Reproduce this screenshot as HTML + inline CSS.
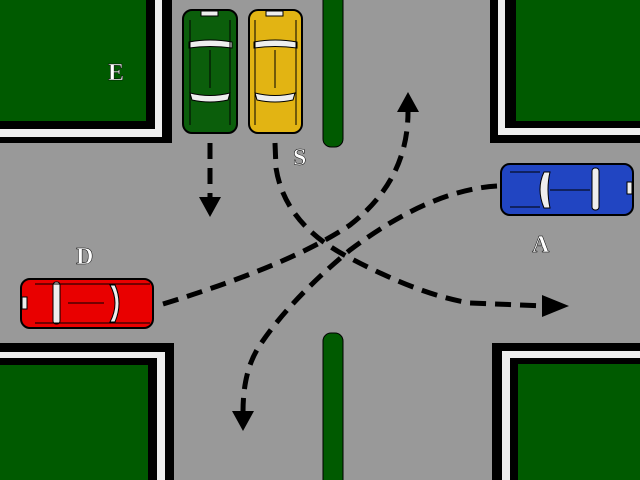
<!DOCTYPE html>
<html><head><style>html,body{margin:0;padding:0;background:#999}svg{display:block}</style></head><body>
<svg width="640" height="480" viewBox="0 0 640 480" xmlns="http://www.w3.org/2000/svg">
<rect width="640" height="480" fill="#999"/>
<!-- corners -->
<rect x="0" y="0" width="172" height="143" fill="#000"/>
<rect x="0" y="0" width="162" height="137" fill="#eee"/>
<rect x="0" y="0" width="155" height="129" fill="#000"/>
<rect x="0" y="0" width="146" height="121" fill="#005a00"/>

<rect x="490" y="0" width="150" height="143" fill="#000"/>
<rect x="498" y="0" width="142" height="135" fill="#eee"/>
<rect x="505" y="0" width="135" height="128" fill="#000"/>
<rect x="516" y="0" width="124" height="121" fill="#005a00"/>

<rect x="0" y="343" width="174" height="137" fill="#000"/>
<rect x="0" y="352" width="165" height="128" fill="#eee"/>
<rect x="0" y="358" width="157" height="122" fill="#000"/>
<rect x="0" y="365" width="148" height="115" fill="#005a00"/>

<rect x="492" y="343" width="148" height="137" fill="#000"/>
<rect x="502" y="351" width="138" height="129" fill="#eee"/>
<rect x="510" y="358" width="130" height="122" fill="#000"/>
<rect x="518" y="364" width="122" height="116" fill="#005a00"/>

<!-- center lines -->
<rect x="323" y="-20" width="20" height="167" rx="8" fill="#005a00" stroke="#000" stroke-width="1"/>
<rect x="323" y="333" width="20" height="170" rx="8" fill="#005a00" stroke="#000" stroke-width="1"/>

<!-- cars vertical -->
<g stroke="#000" stroke-width="2">
<rect x="183" y="10" width="54" height="123" rx="9" fill="#0b5e0b"/>
<rect x="249" y="10" width="53" height="123" rx="9" fill="#e2b413"/>
<rect x="501" y="164" width="132" height="51" rx="9" fill="#2145c2"/>
<rect x="21" y="279" width="132" height="49" rx="9" fill="#e90000"/>
</g>
<g fill="#eee" stroke="#000" stroke-width="1">
<!-- green -->
<rect x="201" y="11" width="17" height="5"/>
<path d="M189 42 Q210 38 232 42 L232 48 Q210 45 189 48Z"/>
<path d="M190 93 Q210 98 230 93 L228 100 Q210 104 192 100Z"/>
<rect x="266" y="11" width="17" height="5"/>
<path d="M254 42 Q275 38 297 42 L297 48 Q275 45 254 48Z"/>
<path d="M255 93 Q275 98 295 93 L293 100 Q275 104 257 100Z"/>
<!-- blue -->
<path d="M544 172 Q536 189 544 208 L550 208 Q546 189 550 172Z"/>
<rect x="592" y="168" width="7" height="42" rx="3"/>
<rect x="627" y="182" width="5" height="12"/>
<!-- red -->
<rect x="53" y="282" width="7" height="42" rx="3"/>
<path d="M110 285 Q120 303 110 322 L115 322 Q123 303 115 285Z"/>
<rect x="22" y="297" width="5" height="12"/>
</g>
<g stroke="#000" stroke-width="1" fill="none">
<line x1="210" y1="50" x2="210" y2="88"/><line x1="275" y1="50" x2="275" y2="88"/>
<line x1="190" y1="20" x2="190" y2="125"/><line x1="230" y1="20" x2="230" y2="125"/>
<line x1="255" y1="20" x2="255" y2="125"/><line x1="296" y1="20" x2="296" y2="125"/>
<line x1="550" y1="190" x2="590" y2="190"/><line x1="68" y1="303" x2="104" y2="303"/>
<line x1="510" y1="172" x2="540" y2="172"/><line x1="510" y1="207" x2="540" y2="207"/>
<line x1="35" y1="284" x2="150" y2="284"/><line x1="35" y1="323" x2="150" y2="323"/>
</g>

<!-- paths -->
<g fill="none" stroke="#000" stroke-width="5" stroke-dasharray="16 9">
<path d="M210 143 L210 198"/>
<path d="M275 143 L276 168 Q285 225 350 258 Q420 295 470 303 L545 306"/>
<path d="M163 304 Q290 265 350 225 Q408 180 408 112"/>
<path d="M497 186 Q430 190 350 250 Q290 300 260 345 Q243 370 243 412"/>
</g>
<g fill="#000">
<polygon points="199,197 221,197 210,217"/>
<polygon points="542,295 542,317 569,306"/>
<polygon points="397,112 419,112 408,92"/>
<polygon points="232,411 254,411 243,431"/>
</g>

<g font-family="Liberation Serif, serif" font-weight="bold" font-size="24" fill="#fff" stroke="#000" stroke-width="0.5">
<text x="108" y="80">E</text>
<text x="293" y="165">S</text>
<text x="76" y="264">D</text>
<text x="532" y="252">A</text>
</g>
</svg>
</body></html>
